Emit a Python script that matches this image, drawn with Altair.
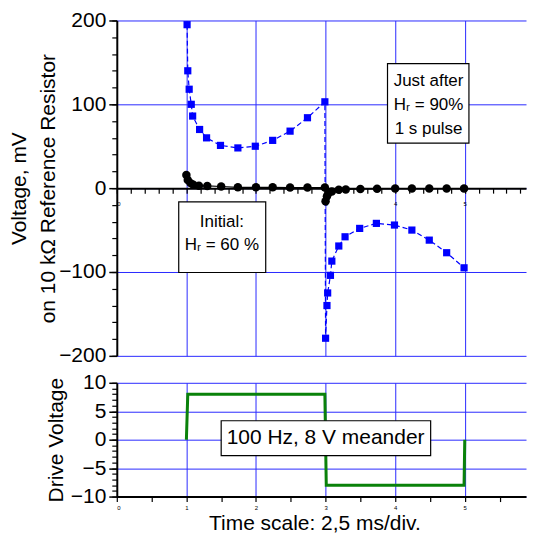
import altair as alt
import pandas as pd

# ---- data ----
after_t = [1.01, 1.02, 1.04, 1.07, 1.09, 1.19, 1.29, 1.49, 1.74, 1.99, 2.24, 2.49, 2.74, 2.99,
           3.00, 3.02, 3.03, 3.07, 3.09, 3.19, 3.28, 3.49, 3.73, 3.99, 4.24, 4.49, 4.74, 4.99]
after_v = [195, 140, 118, 100, 86, 70, 60, 51, 48, 50, 57, 68, 84, 103,
           -179, -140, -125, -104, -87, -69, -58, -48, -42, -44, -50, -62, -77, -95]

init_t = [1.00, 1.02, 1.06, 1.10, 1.18, 1.30, 1.50, 1.74, 2.00, 2.24, 2.49, 2.74, 2.99,
          3.00, 3.02, 3.04, 3.09, 3.19, 3.29, 3.50, 3.74, 4.00, 4.24, 4.49, 4.74, 4.99]
init_v = [15.6, 9.7, 6, 4, 3, 2.7, 2, 1, 1, 1, 0.8, 0.8, 0.8,
          -15.6, -9.7, -6, -4, -2, -1.5, -1, -0.8, -0.5, -0.5, -0.5, -0.5, -0.5]

drive_t = [1.00, 1.02, 2.99, 3.01, 4.99, 5.00]
drive_v = [0, 8, 8, -8, -8, 0]

x_minor_top = [round(i * 0.2, 1) for i in range(30)]
x_minor_bot = [round(i * 0.5, 1) for i in range(12)]
x_major = [1, 2, 3, 4, 5]
y_major_top = [-200, -100, 0, 100, 200]
y_minor_top = list(range(-200, 201, 20))
y_major_bot = [-10, -5, 0, 5, 10]
y_minor_bot = list(range(-10, 11, 1))

box_top = pd.DataFrame({"t": [3.89, 0.89], "t2": [5.06, 2.14], "v": [148.5, -16.4], "v2": [53.8, -100.6]})
text_top = pd.DataFrame({
    "t": [4.48, 4.48, 4.48, 1.51, 1.51],
    "v": [127.8, 98.6, 70.2, -39.8, -67.8],
    "label": ["Just after", "Hᵣ = 90%", "1 s pulse", "Initial:", "Hᵣ = 60 %"],
})
box_bot = pd.DataFrame({"t": [1.50], "t2": [4.51], "v": [3.33], "v2": [-2.8]})
text_bot = pd.DataFrame({"t": [3.0], "v": [0.26], "label": ["100 Hz, 8 V meander"]})

after = pd.DataFrame({"t": after_t, "v": after_v, "i": list(range(len(after_t)))})
init = pd.DataFrame({"t": init_t, "v": init_v, "i": list(range(len(init_t)))})
drive = pd.DataFrame({"t": drive_t, "v": drive_v, "i": list(range(len(drive_t)))})

FONT = "Liberation Sans"
BLUE = "#0000ff"
GRID = "#2a2aff"
XMAX = 5.88
W, HT, HB = 410, 336, 114

xs = alt.Scale(domain=[0, XMAX], nice=False, zero=False)
yst = alt.Scale(domain=[-200, 200], nice=False)
ysb = alt.Scale(domain=[-10, 10], nice=False)

lab_int = "datum.value == round(datum.value) ? '' + datum.value : ''"

# ---- top panel ----
blue_line = alt.Chart(after).mark_line(color=BLUE, strokeWidth=1.2, strokeDash=[5, 3]).encode(
    x=alt.X("t:Q", scale=xs, axis=alt.Axis(values=x_minor_top, orient="bottom", offset=-HT / 2, grid=False,
                                          tickSize=5, tickColor="black", tickWidth=1.2, domainColor="black",
                                          domainWidth=2, labelFontSize=6, labelExpr=lab_int, labelPadding=7,
                                          labelColor="black", title=None)),
    y=alt.Y("v:Q", scale=yst, axis=alt.Axis(values=y_major_top, orient="left", grid=True, gridColor=GRID,
                                           gridWidth=1, tickSize=8, tickColor="black", tickWidth=1.5,
                                           domainColor="black", domainWidth=2, labelFontSize=21,
                                           labelColor="black", labelPadding=3,
                                           title=["Voltage, mV", "on 10 kΩ Reference Resistor"],
                                           titleFontSize=21, titleFontWeight="normal", titleColor="black",
                                           titlePadding=0, titleLineHeight=29)),
    order="i:Q",
)
blue_pts = alt.Chart(after).mark_point(shape="square", filled=True, color=BLUE, size=52, opacity=1).encode(
    x=alt.X("t:Q", scale=xs, axis=None), y=alt.Y("v:Q", scale=yst, axis=None))

black_line = alt.Chart(init).mark_line(color="black", strokeWidth=1.2).encode(
    x=alt.X("t:Q", scale=xs, axis=alt.Axis(values=x_major, orient="bottom", offset=-HT / 2, grid=True,
                                          gridColor=GRID, gridWidth=1, ticks=False, labels=False,
                                          domain=False, title=None)),
    y=alt.Y("v:Q", scale=yst, axis=alt.Axis(values=y_minor_top, orient="left", grid=False, tickSize=5,
                                           tickColor="black", tickWidth=1.2, labels=False, domain=False,
                                           title=None)),
    order="i:Q",
)
black_pts = alt.Chart(init).mark_circle(color="black", size=72, opacity=1).encode(
    x=alt.X("t:Q", scale=xs, axis=None), y=alt.Y("v:Q", scale=yst, axis=None))

boxes_t = alt.Chart(box_top).mark_rect(fill="white", stroke="black", strokeWidth=1.2).encode(
    x=alt.X("t:Q", scale=xs, axis=None), x2="t2:Q",
    y=alt.Y("v:Q", scale=yst, axis=None), y2="v2:Q")
texts_t = alt.Chart(text_top).mark_text(font=FONT, fontSize=17, color="black").encode(
    x=alt.X("t:Q", scale=xs, axis=None), y=alt.Y("v:Q", scale=yst, axis=None), text="label:N")

top = alt.layer(blue_line, black_line, black_pts, blue_pts, boxes_t, texts_t).resolve_axis(
    x="independent", y="independent").properties(width=W, height=HT)

# ---- bottom panel ----
green = alt.Chart(drive).mark_line(color="#0a820a", strokeWidth=3).encode(
    x=alt.X("t:Q", scale=xs, axis=alt.Axis(values=x_minor_bot, orient="bottom", grid=False, tickSize=5,
                                          tickColor="black", tickWidth=1.2, domainColor="black",
                                          domainWidth=2, labelFontSize=6, labelExpr=lab_int, labelPadding=3,
                                          labelColor="black", title="Time scale: 2,5 ms/div.",
                                          titleFontSize=21, titleFontWeight="normal", titleColor="black",
                                          titlePadding=2, titleX=198)),
    y=alt.Y("v:Q", scale=ysb, axis=alt.Axis(values=y_major_bot, orient="left", grid=True, gridColor=GRID,
                                           gridWidth=1, tickSize=8, tickColor="black", tickWidth=1.5,
                                           domainColor="black", domainWidth=2, labelFontSize=21,
                                           labelColor="black", labelPadding=3, title="Drive Voltage",
                                           titleFontSize=21, titleFontWeight="normal", titleColor="black",
                                           titlePadding=4)),
    order="i:Q",
)
boxes_b = alt.Chart(box_bot).mark_rect(fill="white", stroke="black", strokeWidth=1.2).encode(
    x=alt.X("t:Q", scale=xs, axis=alt.Axis(values=x_major, orient="bottom", grid=True, gridColor=GRID,
                                          gridWidth=1, ticks=False, labels=False, domain=False, title=None)),
    x2="t2:Q",
    y=alt.Y("v:Q", scale=ysb, axis=alt.Axis(values=y_minor_bot, orient="left", grid=False, tickSize=5,
                                           tickColor="black", tickWidth=1.2, labels=False, domain=False,
                                           title=None)),
    y2="v2:Q")
texts_b = alt.Chart(text_bot).mark_text(font=FONT, fontSize=21, color="black").encode(
    x=alt.X("t:Q", scale=xs, axis=None), y=alt.Y("v:Q", scale=ysb, axis=None), text="label:N")

bottom = alt.layer(green, boxes_b, texts_b).resolve_axis(
    x="independent", y="independent").properties(width=W, height=HB)

chart = alt.vconcat(top, bottom, spacing=27, bounds="flush").properties(
    padding={"left": 0, "top": 0, "right": 0, "bottom": 0}
).configure_view(stroke="transparent").configure_axis(
    labelFont=FONT, titleFont=FONT
)

chart.save("out.html", embed_options={"renderer": "svg", "actions": False})
